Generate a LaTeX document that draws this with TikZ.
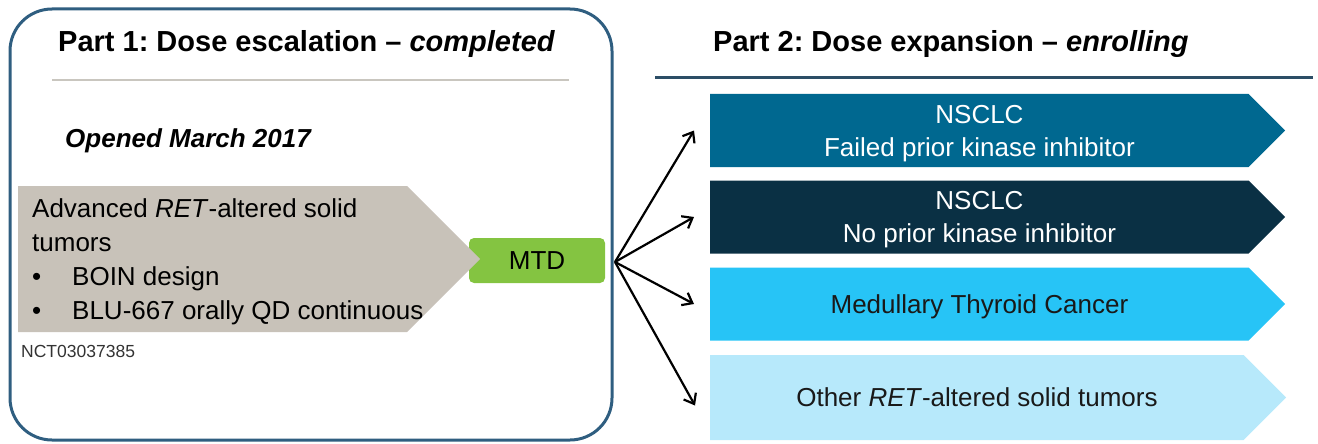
\documentclass[tikz,border=0pt]{standalone}
\usepackage{fontspec}
\setmainfont{Liberation Sans}
\frenchspacing
\usetikzlibrary{arrows.meta,shapes.symbols}
\definecolor{frameblue}{HTML}{2F5E80}
\definecolor{ruleblue}{HTML}{2C4E66}
\definecolor{rulegray}{HTML}{C9C6BF}
\definecolor{boxgray}{HTML}{C8C2B9}
\definecolor{mtdgreen}{HTML}{84C441}
\definecolor{cohortA}{HTML}{006890}
\definecolor{cohortB}{HTML}{0A3044}
\definecolor{cohortC}{HTML}{27C4F6}
\definecolor{cohortD}{HTML}{B7E9FB}

\begin{document}
\begin{tikzpicture}[x=1pt,y=-1pt]
  \tikzstyle{Chevron}=[signal,signal to=east,signal pointer angle=90,inner sep=0pt,
    minimum height=73pt,minimum width=575pt,anchor=west,align=center,text depth=-4pt,
    font=\fontsize{26}{33}\selectfont]
  \tikzstyle{Title}=[anchor=base west,inner sep=0pt,font=\fontsize{29}{34}\selectfont\bfseries]
  \tikzstyle{Fan}=[line width=2.2pt,-{Straight Barb[length=9pt,width=14pt,line width=2.2pt]}]
  \useasboundingbox (0,0) rectangle (1318,444);
  % part 1 frame
  \node[draw=frameblue,line width=3pt,rounded corners=42pt,minimum width=602pt,
        minimum height=431pt,inner sep=0pt] (partone) at (311,224.5) {};
  \node[Title] (titleone) at (58,52) {Part 1: Dose escalation -- \textit{completed}};
  \draw[rulegray,line width=2pt] (52,80) -- (569,80);
  \node[anchor=base west,inner sep=0pt,font=\fontsize{26}{34}\selectfont\bfseries\itshape]
       (opened) at (65,147) {Opened March 2017};
  % escalation cohort and MTD
  \node[fill=mtdgreen,rounded corners=5pt,minimum width=136pt,minimum height=45pt,
        font=\fontsize{26}{34}\selectfont] (mtd) at (537,260.5) {MTD};
  \node[signal,signal to=east,signal pointer angle=90,fill=boxgray,inner sep=0pt,
        minimum width=462pt,minimum height=146pt,anchor=west] (escal) at (18,259) {};
  \node[anchor=north west,inner sep=0pt,align=left,font=\fontsize{26}{34.3}\selectfont]
       (escaltxt) at (32,198) {Advanced \textit{RET}-altered solid\\tumors\\
       \makebox[40pt][l]{•}BOIN design\\\makebox[40pt][l]{•}BLU-667 orally QD continuous};
  \node[anchor=base west,inner sep=0pt,text=black!80,font=\fontsize{17.5}{20}\selectfont]
       (nct) at (21,357) {NCT03037385};
  % part 2
  \node[Title] (titletwo) at (713,52) {Part 2: Dose expansion -- \textit{enrolling}};
  \draw[ruleblue,line width=3pt] (655,78) -- (1313,78);
  \node[Chevron,fill=cohortA,text=white] (nsclcA) at (710,130.5)
       {NSCLC\\Failed prior kinase inhibitor};
  \node[Chevron,fill=cohortB,text=white] (nsclcB) at (710,217)
       {NSCLC\\No prior kinase inhibitor};
  \node[Chevron,fill=cohortC,text=black!90] (mtc) at (710,304)
       {Medullary Thyroid Cancer};
  \node[Chevron,fill=cohortD,text=black!90,minimum height=85pt,minimum width=576pt]
       (other) at (710,397.5) {Other \textit{RET}-altered solid tumors};
  % arrows
  \coordinate (fan) at (615,262);
  \draw[Fan] (fan) -- ([xshift=-16pt]nsclcA.west);
  \draw[Fan] (fan) -- ([xshift=-16pt]nsclcB.west);
  \draw[Fan] (fan) -- ([xshift=-16pt]mtc.west);
  \draw[Fan] (fan) -- ([xshift=-15pt,yshift=-8pt]other.west);
\end{tikzpicture}
\end{document}
